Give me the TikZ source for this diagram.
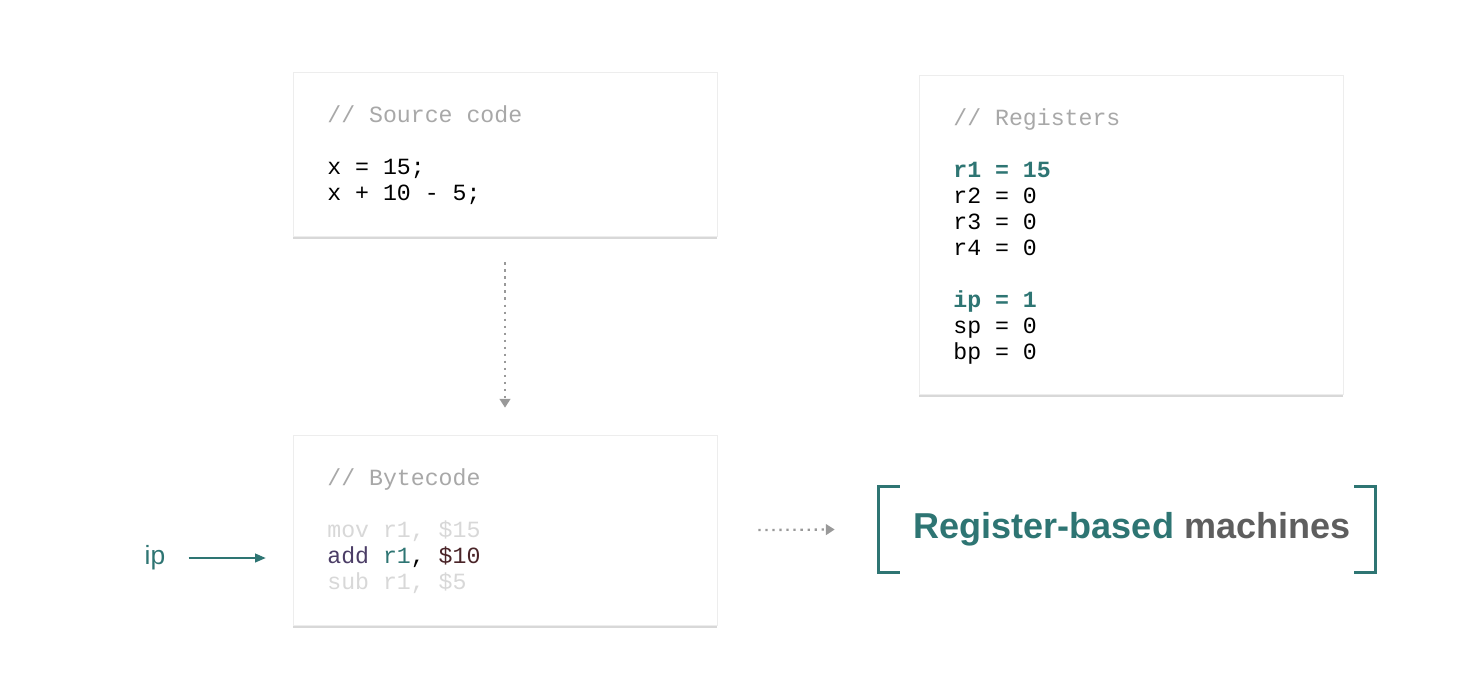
\documentclass[tikz,border=0pt]{standalone}
\usepackage{fontspec}
\setmainfont{Liberation Sans}
\newfontfamily\codefont{Liberation Mono}
\usetikzlibrary{arrows.meta, positioning, shadows}
\definecolor{CTeal}{HTML}{2E7573}
\definecolor{CGrey}{HTML}{A8A8A8}
\definecolor{CFaint}{HTML}{D8D8D8}
\definecolor{CPurple}{HTML}{4B3D66}
\definecolor{CBrown}{HTML}{4A2428}
\definecolor{CDark}{HTML}{5E5E5E}

\tikzset{
    card/.style={draw=black!7, fill=white, inner sep=0pt,
        drop shadow={shadow xshift=0pt, shadow yshift=-1.5pt, opacity=0.3, fill=black!50}},
    code/.style={font=\codefont\fontsize{13.2}{14.8}\selectfont, inner sep=0pt, anchor=base west},
    dotarrow/.style={draw=black!40, line width=1.3pt, dash pattern=on 1.3pt off 2.7pt,
        -{Triangle[length=5pt, width=6pt]}},
    ptarrow/.style={draw=CTeal, thick, -{Triangle[length=6pt, width=5pt]}},
    bracket/.style={draw=CTeal, line width=1.7pt},
}

\begin{document}
\begin{tikzpicture}[x=0.02cm, y=-0.02cm]
    % Canvas
    \fill[white] (0,0) rectangle (1469,683);
    \useasboundingbox (0,0) rectangle (1469,683);

    % Cards
    \node[card, minimum width=8.48cm, minimum height=3.28cm] (src) at (505,154) {};
    \node[card, minimum width=8.48cm, minimum height=6.38cm] (regs) at (1131,234.5) {};
    \node[card, minimum width=8.48cm, minimum height=3.8cm] (byte) at (505,530) {};

    % Source code
    \node[code, text=CGrey] (src-c) at (327,122) {// Source code};
    \node[code] (src-1) at (327,174) {x = 15;};
    \node[code] (src-2) at (327,200) {x + 10 - 5;};

    % Registers
    \node[code, text=CGrey] (regs-c) at (953,125) {// Registers};
    \node[code, text=CTeal, font=\codefont\bfseries\fontsize{13.2}{14.8}\selectfont] (reg-r1) at (953,177) {r1 = 15};
    \node[code, text=CTeal, font=\codefont\bfseries\fontsize{13.2}{14.8}\selectfont] (reg-ip) at (953,307) {ip = 1};
    \foreach \rname/\row in {r2/203, r3/229, r4/255, sp/333, bp/359}
        \node[code] (reg-\rname) at (953,\row) {\rname{} = 0};

    % Bytecode
    \node[code, text=CGrey] (byte-c) at (327,485) {// Bytecode};
    \node[code, text=CFaint] (byte-1) at (327,537) {mov r1, \$15};
    \node[code] (byte-2) at (327,563) {\textcolor{CPurple}{add} \textcolor{CTeal}{r1}, \textcolor{CBrown}{\$10}};
    \node[code, text=CFaint] (byte-3) at (327,589) {sub r1, \$5};

    % Instruction pointer
    \node[text=CTeal, inner sep=0pt, font=\fontsize{15}{18}\selectfont] (ip) at (155,558) {ip};
    \draw[ptarrow] ([xshift=0.46cm]ip.east) -- ([xshift=-0.54cm]byte.west |- ip);

    % Title in brackets
    \node[minimum width=9.92cm, minimum height=1.7cm] (machine) at (1127,529.5) {};
    \node[font=\bfseries\fontsize{20.5}{24}\selectfont] (title) at ([xshift=0.1cm]machine.center)
        {\textcolor{CTeal}{Register-based} \textcolor{CDark}{machines}};
    \draw[bracket] ([xshift=0.42cm]machine.north west) -- (machine.north west) -- (machine.south west) -- ++(0.42cm,0);
    \draw[bracket] ([xshift=-0.42cm]machine.north east) -- (machine.north east) -- (machine.south east) -- ++(-0.42cm,0);

    % Flow
    \draw[dotarrow] ([yshift=-0.52cm]src.south) -- ([yshift=0.54cm]byte.north);
    \draw[dotarrow] ([xshift=0.82cm]byte.east) -- ([xshift=-0.88cm]machine.west);
\end{tikzpicture}
\end{document}
